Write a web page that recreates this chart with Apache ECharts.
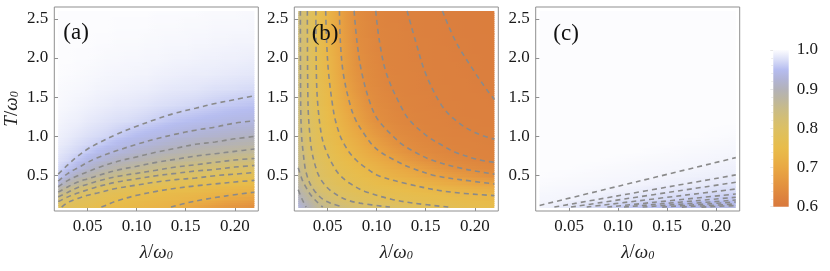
<!DOCTYPE html>
<html><head><meta charset="utf-8">
<script src="https://cdn.jsdelivr.net/npm/echarts@6/dist/echarts.min.js"></script>
<style>html,body{margin:0;padding:0;background:#fff}#chart{width:830px;height:271px}</style>
</head><body><div id="chart"></div>
<script>
// ---- data ----
const lambdaVals = [0.02,0.03,0.04,0.05,0.06,0.07,0.08,0.09,0.10,0.11,0.12,0.13,0.14,0.15,0.16,0.17,0.18,0.19,0.20,0.21,0.22];
const tempVals = [0.1,0.2,0.3,0.4,0.5,0.6,0.7,0.8,0.9,1.0,1.2,1.4,1.6,1.8,2.0,2.2,2.4,2.6];

// panel (a): one row per temperature, one value per lambda
const panelA = [
[.79,.78,.773,.766,.758,.752,.747,.742,.737,.732,.727,.722,.717,.705,.695,.685,.675,.667,.66,.653,.645],
[.83,.802,.784,.779,.773,.766,.759,.753,.749,.745,.741,.737,.733,.729,.724,.72,.713,.70,.697,.691,.684],
[.879,.849,.824,.806,.792,.782,.777,.772,.767,.76,.755,.751,.748,.746,.744,.739,.736,.732,.729,.726,.722],
[.922,.89,.866,.849,.832,.819,.807,.80,.793,.785,.78,.777,.771,.768,.764,.761,.756,.753,.749,.748,.743],
[.958,.925,.905,.888,.875,.86,.849,.841,.832,.824,.815,.811,.804,.80,.795,.792,.785,.782,.779,.776,.773],
[.971,.954,.935,.918,.905,.893,.883,.875,.868,.86,.854,.848,.841,.835,.83,.825,.822,.815,.812,.808,.805],
[.978,.97,.955,.94,.928,.918,.909,.902,.895,.888,.882,.875,.872,.866,.861,.856,.853,.85,.845,.842,.838],
[.983,.976,.969,.958,.947,.938,.931,.923,.916,.911,.905,.899,.894,.889,.885,.881,.879,.875,.872,.868,.865],
[.987,.982,.975,.97,.963,.954,.946,.94,.935,.929,.923,.917,.913,.909,.905,.901,.899,.895,.892,.889,.886],
[.99,.986,.981,.976,.972,.968,.961,.954,.948,.943,.939,.935,.93,.926,.922,.918,.916,.913,.91,.908,.905],
[.994,.991,.989,.985,.982,.979,.976,.974,.971,.967,.963,.958,.954,.951,.948,.945,.943,.94,.938,.937,.935],
[.997,.995,.993,.991,.989,.987,.985,.984,.982,.98,.977,.975,.973,.971,.969,.966,.963,.96,.958,.956,.954],
[.998,.997,.996,.995,.993,.992,.991,.99,.989,.988,.986,.984,.983,.982,.981,.979,.977,.976,.975,.973,.972],
[1,.999,.998,.997,.996,.995,.994,.994,.993,.993,.991,.99,.989,.988,.987,.987,.986,.985,.984,.983,.982],
[1,1,.999,.999,.998,.997,.997,.996,.996,.995,.995,.994,.993,.993,.992,.991,.991,.99,.99,.989,.988],
[1,1,1,1,.999,.999,.998,.998,.998,.997,.997,.996,.996,.996,.995,.995,.994,.994,.993,.993,.993],
[1,1,1,1,1,1,.999,.999,.999,.999,.998,.998,.998,.997,.997,.997,.996,.996,.996,.996,.995],
[1,1,1,1,1,1,1,1,1,1,.999,.999,.999,.999,.999,.998,.998,.998,.998,.997,.997]
];

// panel (b)
const panelB = [
[.93,.90,.868,.853,.838,.828,.82,.814,.808,.802,.798,.793,.788,.783,.778,.772,.767,.764,.762,.759,.756],
[.91,.878,.846,.825,.81,.799,.792,.786,.78,.772,.769,.766,.762,.759,.756,.753,.75,.747,.745,.743,.741],
[.89,.86,.824,.807,.794,.786,.777,.769,.764,.76,.756,.752,.748,.743,.739,.735,.731,.728,.724,.721,.717],
[.878,.838,.812,.796,.784,.774,.767,.76,.753,.748,.742,.735,.73,.724,.719,.713,.708,.703,.697,.694,.69],
[.867,.826,.802,.787,.774,.764,.756,.746,.738,.728,.721,.713,.706,.697,.69,.683,.676,.67,.663,.656,.649],
[.86,.824,.798,.781,.767,.756,.745,.735,.724,.713,.704,.695,.686,.677,.667,.658,.649,.644,.641,.638,.635],
[.856,.819,.793,.775,.76,.748,.735,.721,.71,.697,.688,.674,.663,.652,.644,.64,.637,.633,.63,.627,.626],
[.852,.813,.788,.769,.753,.738,.724,.71,.695,.681,.668,.656,.644,.64,.636,.632,.628,.627,.625,.624,.623],
[.848,.808,.783,.764,.746,.731,.715,.697,.683,.668,.654,.643,.639,.635,.631,.627,.626,.625,.624,.622,.621],
[.846,.806,.78,.759,.741,.722,.706,.688,.672,.656,.644,.639,.634,.629,.627,.626,.624,.623,.622,.62,.62],
[.843,.804,.775,.752,.731,.71,.688,.668,.649,.641,.635,.63,.627,.625,.624,.622,.62,.619,.619,.618,.618],
[.842,.80,.77,.746,.722,.697,.676,.654,.642,.636,.63,.627,.625,.623,.621,.62,.619,.618,.617,.617,.616],
[.842,.80,.768,.742,.715,.686,.663,.644,.638,.631,.627,.625,.623,.621,.62,.619,.618,.617,.616,.615,.614],
[.841,.799,.766,.738,.708,.677,.656,.642,.635,.628,.626,.624,.622,.62,.619,.618,.617,.616,.615,.614,.614],
[.841,.798,.766,.735,.704,.676,.65,.64,.633,.627,.625,.623,.621,.619,.618,.617,.616,.615,.614,.613,.613],
[.84,.798,.763,.732,.699,.672,.645,.638,.63,.626,.624,.622,.62,.619,.618,.616,.615,.614,.613,.613,.612],
[.84,.798,.763,.731,.697,.668,.644,.636,.629,.626,.624,.621,.619,.618,.617,.616,.614,.613,.613,.612,.612],
[.84,.798,.763,.729,.697,.667,.643,.635,.628,.625,.623,.62,.619,.617,.616,.615,.614,.613,.613,.612,.611]
];

// panel (c)
const panelC = [
[.993,.99,.986,.982,.978,.974,.97,.967,.963,.96,.956,.953,.95,.947,.944,.941,.938,.936,.934,.932,.931],
[.995,.9945,.994,.9928,.9908,.989,.9875,.9848,.9824,.98,.9776,.9758,.9738,.9718,.9699,.9681,.9659,.9639,.9619,.96,.958],
[.9965,.9961,.9956,.9951,.9946,.9941,.9935,.9919,.9904,.9891,.988,.9864,.9844,.9826,.981,.9793,.9778,.9763,.975,.9735,.972],
[.9981,.9976,.9971,.9968,.9963,.9958,.9953,.9948,.9943,.9939,.9926,.9914,.9903,.9893,.9884,.9875,.9859,.9843,.9829,.9815,.9801],
[.9996,.9993,.9988,.9983,.9978,.9973,.9969,.9964,.9959,.9954,.9949,.9945,.994,.9931,.992,.991,.9901,.9894,.9885,.9879,.9869],
[1,1,1,.9998,.9994,.9989,.9984,.9979,.9974,.997,.9965,.996,.9955,.995,.9946,.9941,.9936,.9925,.9916,.9908,.99],
[1,1,1,1,1,1,1,.9995,.999,.9985,.998,.9975,.9971,.9966,.9961,.9956,.9952,.9947,.9942,.9937,.9929],
[1,1,1,1,1,1,1,1,1,1,.9996,.9991,.9986,.9981,.9977,.9972,.9967,.9962,.9957,.9954,.9949],
[1,1,1,1,1,1,1,1,1,1,1,1,1,.9997,.9992,.9987,.9984,.9979,.9974,.9969,.9964],
[1,1,1,1,1,1,1,1,1,1,1,1,1,1,1,1,.9999,.9994,.9989,.9985,.998],
[1,1,1,1,1,1,1,1,1,1,1,1,1,1,1,1,1,1,1,1,1],
[1,1,1,1,1,1,1,1,1,1,1,1,1,1,1,1,1,1,1,1,1],
[1,1,1,1,1,1,1,1,1,1,1,1,1,1,1,1,1,1,1,1,1],
[1,1,1,1,1,1,1,1,1,1,1,1,1,1,1,1,1,1,1,1,1],
[1,1,1,1,1,1,1,1,1,1,1,1,1,1,1,1,1,1,1,1,1],
[1,1,1,1,1,1,1,1,1,1,1,1,1,1,1,1,1,1,1,1,1],
[1,1,1,1,1,1,1,1,1,1,1,1,1,1,1,1,1,1,1,1,1],
[1,1,1,1,1,1,1,1,1,1,1,1,1,1,1,1,1,1,1,1,1]
];

// dashed contour lines, [lambda, T] points
const contoursA = [
[[0.02,0.52],[0.03,0.64],[0.04,0.75],[0.05,0.84],[0.06,0.91],[0.08,1.03],[0.10,1.13],[0.12,1.22],[0.14,1.30],[0.16,1.36],[0.18,1.42],[0.20,1.47],[0.22,1.52]],
[[0.02,0.43],[0.03,0.53],[0.04,0.60],[0.05,0.67],[0.06,0.73],[0.08,0.82],[0.10,0.90],[0.12,0.97],[0.14,1.03],[0.16,1.08],[0.18,1.12],[0.20,1.17],[0.22,1.20]],
[[0.02,0.36],[0.03,0.44],[0.04,0.50],[0.05,0.55],[0.06,0.60],[0.08,0.68],[0.10,0.74],[0.12,0.80],[0.14,0.85],[0.16,0.90],[0.18,0.93],[0.20,0.97],[0.22,1.00]],
[[0.02,0.29],[0.03,0.36],[0.04,0.42],[0.05,0.46],[0.06,0.50],[0.08,0.57],[0.10,0.62],[0.12,0.67],[0.14,0.71],[0.16,0.75],[0.18,0.78],[0.20,0.81],[0.22,0.84]],
[[0.02,0.23],[0.03,0.29],[0.04,0.35],[0.05,0.39],[0.06,0.43],[0.08,0.49],[0.10,0.53],[0.12,0.57],[0.14,0.61],[0.16,0.64],[0.18,0.67],[0.20,0.70],[0.22,0.72]],
[[0.02,0.17],[0.03,0.23],[0.04,0.28],[0.05,0.32],[0.06,0.36],[0.08,0.42],[0.10,0.46],[0.12,0.50],[0.14,0.53],[0.16,0.56],[0.18,0.58],[0.20,0.61],[0.22,0.63]],
[[0.0235,0.10],[0.03,0.16],[0.04,0.21],[0.05,0.25],[0.06,0.28],[0.08,0.34],[0.10,0.38],[0.12,0.42],[0.14,0.45],[0.16,0.47],[0.18,0.50],[0.20,0.52],[0.22,0.54]],
[[0.064,0.10],[0.07,0.13],[0.08,0.18],[0.10,0.25],[0.12,0.30],[0.14,0.34],[0.16,0.37],[0.18,0.395],[0.20,0.42],[0.22,0.44]],
[[0.135,0.10],[0.15,0.15],[0.17,0.20],[0.19,0.24],[0.22,0.29]]
];
const contoursB = [
[[0.167,2.6],[0.181,2.2],[0.201,1.8],[0.212,1.6],[0.22,1.47]],
[[0.131,2.6],[0.14,2.2],[0.15,1.8],[0.166,1.4],[0.181,1.2],[0.2,1.05],[0.22,0.966]],
[[0.099,2.6],[0.103,2.2],[0.11,1.8],[0.124,1.4],[0.134,1.2],[0.152,1.0],[0.165,0.9],[0.18,0.8],[0.205,0.7],[0.22,0.67]],
[[0.077,2.6],[0.08,2.2],[0.085,1.8],[0.094,1.4],[0.102,1.2],[0.117,1.0],[0.126,0.9],[0.139,0.8],[0.156,0.7],[0.184,0.6],[0.205,0.55],[0.22,0.52]],
[[0.062,2.6],[0.063,2.2],[0.066,1.8],[0.073,1.4],[0.079,1.2],[0.089,1.0],[0.095,0.9],[0.104,0.8],[0.118,0.7],[0.135,0.6],[0.16,0.5],[0.185,0.45],[0.22,0.395]],
[[0.048,2.6],[0.049,2.2],[0.051,1.8],[0.055,1.4],[0.058,1.2],[0.063,1.0],[0.067,0.9],[0.072,0.8],[0.079,0.7],[0.089,0.6],[0.102,0.5],[0.13,0.4],[0.17,0.3],[0.22,0.246]],
[[0.038,2.6],[0.0385,1.8],[0.040,1.4],[0.044,1.0],[0.049,0.8],[0.057,0.6],[0.063,0.5],[0.073,0.4],[0.088,0.3],[0.115,0.2],[0.138,0.15],[0.173,0.1]],
[[0.0293,2.6],[0.030,1.4],[0.032,1.0],[0.034,0.8],[0.038,0.6],[0.041,0.5],[0.046,0.4],[0.054,0.3],[0.068,0.2],[0.083,0.15],[0.1135,0.1]],
[[0.0222,2.6],[0.0225,1.4],[0.0235,1.0],[0.025,0.8],[0.027,0.6],[0.029,0.5],[0.032,0.4],[0.037,0.3],[0.045,0.2],[0.053,0.15],[0.066,0.1]],
[[0.02,0.6],[0.024,0.45],[0.028,0.35],[0.033,0.25],[0.038,0.18],[0.045,0.1]],
[[0.02,0.32],[0.024,0.2],[0.028,0.1]]
];
const contoursC = [
[[0.02,0.121],[0.12,0.426],[0.22,0.73]],
[[0.035,0.1],[0.22,0.51]],
[[0.052,0.1],[0.22,0.416]],
[[0.068,0.1],[0.22,0.33]],
[[0.089,0.1],[0.22,0.267]],
[[0.106,0.1],[0.22,0.225]],
[[0.125,0.1],[0.22,0.19]],
[[0.145,0.1],[0.22,0.165]],
[[0.165,0.1],[0.22,0.14]],
[[0.185,0.1],[0.22,0.12]]
];

const xTicks = [0.05, 0.10, 0.15, 0.20];
const yTicks = [0.5, 1.0, 1.5, 2.0, 2.5];
const cbTicks = [0.6, 0.7, 0.8, 0.9, 1.0];
const panelNames = ['(a)', '(b)', '(c)'];

// ---- styling ----
const FONT = '"Liberation Serif", "Times New Roman", serif';
// colour scale, evenly spaced from 0.6 (first) to 1.0 (last)
const palette = ['#d9793d','#dd833e','#e2903f','#e69c41','#e9a843','#e9b347','#e8bc4b','#e2bf56','#dcc064',
                 '#d3be74','#c8bb88','#bcb6a0','#b3b2b9','#b1b4d6','#b6bdf0','#dadef7','#fcfcfe'];
const frameColor = '#8f8f8f';
const grids = [
  {left: 54.3, top: 7, width: 204, height: 204},
  {left: 294.3, top: 7, width: 204, height: 204},
  {left: 535.7, top: 7, width: 204, height: 204},
  {left: 773.3, top: 50, width: 15.4, height: 156.7}
];

const palRGB = palette.map(h => [parseInt(h.slice(1, 3), 16), parseInt(h.slice(3, 5), 16), parseInt(h.slice(5, 7), 16)]);
function colorOf(v) {
  const lo = cbTicks[0], hi = cbTicks[cbTicks.length - 1];
  let f = (v - lo) / (hi - lo) * (palRGB.length - 1);
  f = Math.max(0, Math.min(palRGB.length - 1, f));
  const k = Math.min(palRGB.length - 2, Math.floor(f)), r = f - k;
  const a = palRGB[k], b = palRGB[k + 1];
  return 'rgb(' + [0, 1, 2].map(c => Math.round(a[c] + (b[c] - a[c]) * r)).join(',') + ')';
}

// each datum is one band between two measured temperature rows; it is painted with
// gradients through the measured values of those two rows
function bandRenderer(rows) {
  return function (params, api) {
    const i = api.value(2);
    const nx = lambdaVals.length;
    const pTop = api.coord([lambdaVals[0], tempVals[i + 1]]);
    const pBot = api.coord([lambdaVals[nx - 1], tempVals[i]]);
    const w = pBot[0] - pTop[0], h = pBot[1] - pTop[1];
    const n = Math.max(2, Math.round(h / 2));
    const children = [];
    for (let s = 0; s < n; s++) {
      const f = (s + 0.5) / n; // 0 at top row, 1 at bottom row
      const ya = Math.round(pTop[1] + h * s / n);
      const yb = Math.round(pTop[1] + h * (s + 1) / n);
      const stops = lambdaVals.map((lam, j) => ({
        offset: (api.coord([lam, tempVals[i]])[0] - pTop[0]) / w,
        color: colorOf(rows[i + 1][j] * (1 - f) + rows[i][j] * f)
      }));
      children.push({
        type: 'rect',
        shape: {x: pTop[0], y: ya, width: w, height: (yb - ya) + 1},
        style: {fill: new echarts.graphic.LinearGradient(0, 0, 1, 0, stops)}
      });
    }
    return {type: 'group', children: children};
  };
}

const rich = {
  i: {fontFamily: FONT, fontStyle: 'italic', fontSize: 19, color: '#222'},
  n: {fontFamily: FONT, fontSize: 19, color: '#222'},
  s: {fontFamily: FONT, fontStyle: 'italic', fontSize: 12, color: '#222', verticalAlign: 'bottom'}
};

const xAxes = [], yAxes = [], series = [];
[0, 1, 2].forEach(k => {
  xAxes.push({
    gridIndex: k, type: 'value', min: 0.016, max: 0.224,
    axisLine: {show: false}, splitLine: {show: false},
    axisTick: {show: true, inside: true, length: 4, customValues: xTicks, lineStyle: {color: frameColor}},
    axisLabel: {customValues: xTicks, formatter: v => v.toFixed(2), fontFamily: FONT, fontSize: 17, color: '#1a1a1a', margin: 7},
    name: '{i|λ}{n|/}{i|ω}{s|0}', nameLocation: 'middle', nameGap: 32,
    nameTextStyle: {rich: rich}
  });
  yAxes.push({
    gridIndex: k, type: 'value', min: 0.05, max: 2.65,
    axisLine: {show: false}, splitLine: {show: false},
    axisTick: {show: true, inside: true, length: 4, customValues: yTicks, lineStyle: {color: frameColor}},
    axisLabel: {customValues: yTicks, formatter: v => v.toFixed(1), fontFamily: FONT, fontSize: 17, color: '#1a1a1a', margin: 6},
    name: k === 0 ? '{i|T}{n|/}{i|ω}{s|0}' : '', nameLocation: 'middle', nameGap: 33, nameRotate: 90,
    nameTextStyle: {rich: rich}
  });
});
xAxes.push({gridIndex: 3, type: 'value', min: 0, max: 1, show: false});
yAxes.push({
  gridIndex: 3, type: 'value', position: 'right', min: cbTicks[0], max: cbTicks[cbTicks.length - 1], interval: 0.1,
  axisLine: {show: false}, splitLine: {show: false},
  axisTick: {show: true, inside: true, length: 3, lineStyle: {color: '#e6e6e6'}},
  minorTick: {show: true, splitNumber: 5, length: 2, lineStyle: {color: '#ececec'}},
  axisLabel: {formatter: v => v.toFixed(1), fontFamily: FONT, fontSize: 17, color: '#1a1a1a', margin: 8}
});

[panelA, panelB, panelC].forEach((rows, k) => {
  series.push({
    type: 'custom', xAxisIndex: k, yAxisIndex: k,
    data: tempVals.slice(0, -1).map((t, i) => [lambdaVals[0], t, i]),
    encode: {x: 0, y: 1},
    renderItem: bandRenderer(rows), silent: true, z: 1
  });
});
[contoursA, contoursB, contoursC].forEach((lines, k) => {
  lines.forEach(pts => series.push({
    type: 'line', xAxisIndex: k, yAxisIndex: k, data: pts, smooth: 0.35,
    symbol: 'none', silent: true, z: 5, clip: true,
    lineStyle: {color: '#8a8a8a', width: 1.6, type: [5, 4]}
  }));
});
// colour bar
series.push({
  type: 'custom', xAxisIndex: 3, yAxisIndex: 3,
  data: [[0, cbTicks[0], cbTicks[cbTicks.length - 1]]],
  renderItem: function (params, api) {
    const p0 = api.coord([0, api.value(2)]);
    const p1 = api.coord([1, api.value(1)]);
    const stops = palette.slice().reverse().map((c, idx) => ({offset: idx / (palette.length - 1), color: c}));
    return {type: 'rect', shape: {x: p0[0], y: p0[1], width: p1[0] - p0[0], height: p1[1] - p0[1]},
      style: {fill: new echarts.graphic.LinearGradient(0, 0, 0, 1, stops)}};
  }, silent: true, z: 1
});

const labelPos = [[63.3, 33], [311.7, 34], [553.3, 34]];
const chart = echarts.init(document.getElementById('chart'), null, {renderer: 'canvas'});
chart.setOption({
  animation: false,
  backgroundColor: '#fff',
  grid: grids.map((g, k) => Object.assign({show: k < 3, borderColor: frameColor, borderWidth: 1, backgroundColor: 'transparent', containLabel: false}, g)),
  xAxis: xAxes,
  yAxis: yAxes,
  graphic: panelNames.map((t, k) => ({
    type: 'text', x: labelPos[k][0], y: labelPos[k][1], z: 10,
    style: {text: t, fontFamily: FONT, fontSize: 23, fill: '#111', verticalAlign: 'middle', align: 'left'}
  })),
  series: series
});
</script></body></html>
